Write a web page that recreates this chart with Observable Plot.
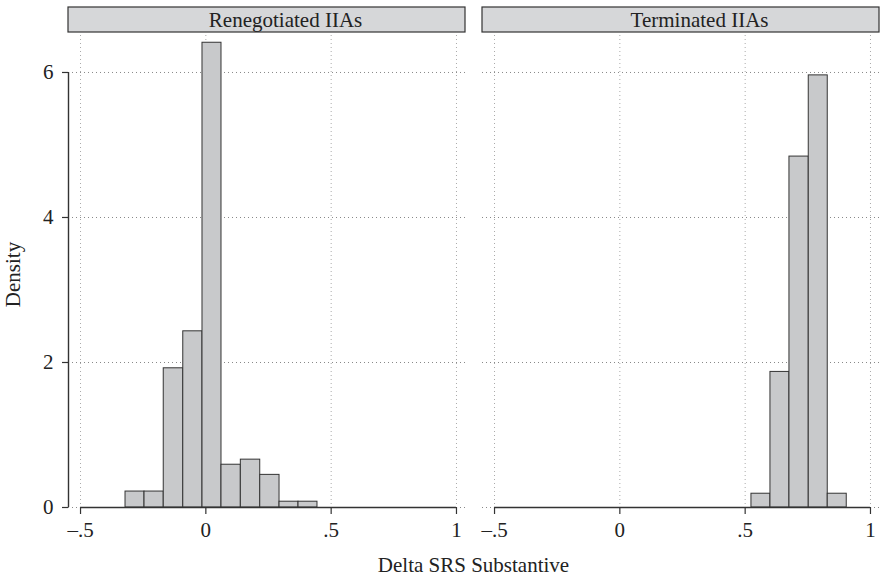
<!DOCTYPE html>
<html>
<head>
<meta charset="utf-8">
<script src="https://cdn.jsdelivr.net/npm/d3@7"></script>
<script src="https://cdn.jsdelivr.net/npm/@observablehq/plot@0.6"></script>
<style>
  body { margin: 0; background: #fff; }
  #wrap { position: relative; width: 880px; height: 580px; font-family: "Liberation Serif", "Times New Roman", serif; }
  #xtitle { position: absolute; left: 68px; width: 811px; top: 553px; line-height: 24px; text-align: center; font-size: 21px; color: #222; }
</style>
</head>
<body>
<div id="wrap"><div id="chart"></div><div id="xtitle"></div></div>
<script>
// ---- data ----
const panels = ["Renegotiated IIAs", "Terminated IIAs"];
const renegEdges = [-0.3205, -0.2447, -0.1680, -0.0901, -0.0134, 0.0624, 0.1396, 0.2170, 0.2940, 0.3697, 0.4454];
const renegDensity = [0.22, 0.22, 1.92, 2.43, 6.41, 0.59, 0.66, 0.45, 0.08, 0.08];
const termEdges = [0.5251, 0.6009, 0.6767, 0.7537, 0.8295, 0.9053];
const termDensity = [0.19, 1.87, 4.84, 5.96, 0.19];
const xTicks = [-0.5, 0, 0.5, 1];
const xTickLabels = ["\u2013.5", "0", ".5", "1"];
const yTicks = [0, 2, 4, 6];
const yTickLabels = ["0", "2", "4", "6"];
const xTitle = "Delta SRS Substantive";
const yTitle = "Density";

// ---- build table ----
const bars = [
  ...renegDensity.map((d, i) => ({panel: panels[0], x1: renegEdges[i], x2: renegEdges[i + 1], y: d})),
  ...termDensity.map((d, i) => ({panel: panels[1], x1: termEdges[i], x2: termEdges[i + 1], y: d}))
];

const W = 880, H = 550, mTop = 35, mBottom = 43, mLeft = 68, mRight = 1;
const xDomain = [-0.548, 1.036];
const yDomain = [0, 6.51];
const pxPerUnit = (H - mTop - mBottom) / yDomain[1];
const headY1 = yDomain[1] + 3 / pxPerUnit;
const headY2 = yDomain[1] + 28 / pxPerUnit;
const font = "Liberation Serif, Times New Roman, serif";
const dark = "#333";

const chart = Plot.plot({
  width: W, height: H,
  marginTop: mTop, marginBottom: mBottom, marginLeft: mLeft, marginRight: mRight,
  style: {fontFamily: font, fontSize: "21px", color: "#222", background: "#fff"},
  fx: {domain: panels, paddingInner: 17 / 414, paddingOuter: 0, axis: null, label: null},
  x: {domain: xDomain, label: null},
  y: {domain: yDomain, label: null},
  marks: [
    Plot.ruleX(xTicks, {stroke: "#aaa", strokeDasharray: "1,3", strokeWidth: 1}),
    Plot.ruleY(yTicks, {stroke: "#888", strokeDasharray: "1,3", strokeWidth: 1}),
    Plot.rectY(bars, {fx: "panel", x1: "x1", x2: "x2", y: "y", fill: "#c8c9cb", stroke: dark, strokeWidth: 1, insetLeft: 0, insetRight: 0}),
    Plot.ruleY([0], {x1: xTicks[0], x2: xTicks[xTicks.length - 1], stroke: dark, strokeWidth: 1.4}),
    Plot.ruleX([panels[0]], {fx: d => d, x: xDomain[0], y1: yTicks[0], y2: yTicks[yTicks.length - 1], stroke: dark, strokeWidth: 1.4}),
    Plot.axisX({ticks: xTicks, tickFormat: d => xTickLabels[xTicks.indexOf(d)], tickSize: 7, tickPadding: 8, stroke: dark, strokeWidth: 1.2, label: null, fontSize: 21}),
    Plot.axisY({ticks: yTicks, tickFormat: d => yTickLabels[yTicks.indexOf(d)], tickSize: 6, tickPadding: 9, stroke: dark, strokeWidth: 1.2, label: null, fontSize: 21}),
    Plot.text([yTitle], {fx: () => panels[0], frameAnchor: "left", textAnchor: "middle", dx: -55, dy: 3, rotate: -90, text: d => d, fontSize: 21, fill: "#222"}),
    Plot.rect(panels, {fx: d => d, x1: xDomain[0], x2: xDomain[1], y1: headY1, y2: headY2, fill: "#d6d7d9", stroke: dark, strokeWidth: 1.2}),
    Plot.text(panels, {fx: d => d, x: 0.318, y: (headY1 + headY2) / 2, text: d => d, fontSize: 21, fill: "#222"})
  ]
});
document.getElementById("chart").appendChild(chart);
document.getElementById("xtitle").textContent = xTitle;
</script>
</body>
</html>
